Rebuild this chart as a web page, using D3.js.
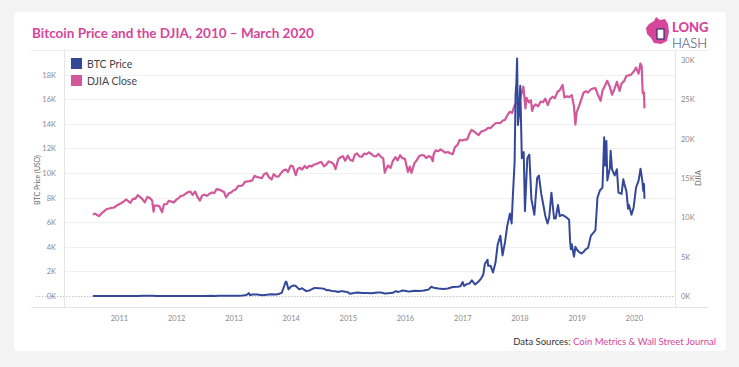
<!DOCTYPE html>
<html>
<head>
<meta charset="utf-8">
<script src="https://cdn.jsdelivr.net/npm/d3@7"></script>
<style>
  body { margin: 0; background: #f3f3f3; font-family: Lato, "Open Sans", sans-serif; }
  svg { display: block; }
</style>
</head>
<body>
<svg id="chart" width="739" height="367"></svg>
<script>

// BTC price (USD), semi-monthly-ish readings
const btcDates = [
  "2010-07-18","2010-10-01","2010-11-07","2010-12-01",
  "2011-01-01","2011-02-10","2011-04-01","2011-05-01","2011-06-08","2011-07-01","2011-08-01","2011-09-01","2011-10-01","2011-11-18","2011-12-01",
  "2012-01-01","2012-02-01","2012-03-01","2012-04-01","2012-05-01","2012-06-01","2012-07-01","2012-08-15","2012-09-01","2012-10-01","2012-11-01","2012-12-01",
  "2013-01-01","2013-02-01","2013-03-01","2013-03-25","2013-04-10","2013-04-16","2013-05-01","2013-06-01","2013-07-05","2013-08-01","2013-09-01","2013-10-01","2013-10-20","2013-11-05","2013-11-18","2013-11-30","2013-12-05","2013-12-18","2013-12-31",
  "2014-01-15","2014-02-01","2014-02-25","2014-03-15","2014-04-10","2014-05-01","2014-06-03","2014-07-01","2014-08-01","2014-08-18","2014-09-01","2014-09-22","2014-10-15","2014-11-01","2014-11-15","2014-12-01","2014-12-15",
  "2015-01-01","2015-01-14","2015-02-01","2015-02-15","2015-03-10","2015-04-01","2015-05-01","2015-06-01","2015-07-10","2015-08-01","2015-08-25","2015-09-15","2015-10-15","2015-11-04","2015-11-15","2015-12-01","2015-12-15",
  "2016-01-01","2016-01-15","2016-02-01","2016-03-01","2016-04-01","2016-05-01","2016-06-01","2016-06-17","2016-07-01","2016-08-01","2016-09-01","2016-10-01","2016-11-01","2016-12-01","2016-12-20",
  "2017-01-04","2017-01-12","2017-02-01","2017-02-15","2017-03-03","2017-03-24","2017-04-15","2017-05-01","2017-05-15","2017-05-25","2017-06-11","2017-06-15","2017-07-01","2017-07-16","2017-08-01","2017-08-15","2017-09-01","2017-09-15","2017-10-01","2017-10-15","2017-11-01","2017-11-12","2017-11-20","2017-12-01","2017-12-07","2017-12-12","2017-12-17","2017-12-22","2017-12-28",
  "2018-01-06","2018-01-16","2018-01-28","2018-02-05","2018-02-20","2018-03-05","2018-03-18","2018-04-06","2018-04-24","2018-05-05","2018-05-20","2018-06-01","2018-06-15","2018-06-29","2018-07-10","2018-07-24","2018-08-10","2018-08-20","2018-09-04","2018-09-15","2018-10-01","2018-10-15","2018-11-01","2018-11-14","2018-11-20","2018-11-25","2018-12-01","2018-12-15","2018-12-24",
  "2019-01-01","2019-01-15","2019-02-01","2019-02-15","2019-03-01","2019-03-15","2019-04-02","2019-04-15","2019-05-01","2019-05-14","2019-05-30","2019-06-15","2019-06-26","2019-07-01","2019-07-10","2019-07-16","2019-08-01","2019-08-06","2019-08-15","2019-09-01","2019-09-15","2019-09-25","2019-10-15","2019-10-26","2019-11-01","2019-11-15","2019-11-25","2019-12-01","2019-12-17","2019-12-31",
  "2020-01-15","2020-02-01","2020-02-13","2020-02-25","2020-03-01","2020-03-06","2020-03-09"
];
const btcValues = [
  0.09, 0.06, 0.35, 0.21,
  0.3, 1.0, 0.78, 3.3, 29.6, 16, 13, 8.2, 5.1, 2.0, 3.0,
  5.3, 6.0, 4.9, 4.9, 5.0, 5.3, 6.7, 13.5, 10, 12.4, 10.9, 12.5,
  13.5, 20, 34, 78, 230, 68, 116, 129, 68, 105, 140, 125, 180, 250, 710, 1150, 1150, 540, 730,
  850, 830, 540, 630, 400, 450, 660, 640, 590, 470, 480, 400, 390, 325, 390, 380, 350,
  315, 180, 225, 255, 290, 245, 235, 225, 285, 280, 210, 230, 255, 400, 330, 375, 450,
  430, 385, 370, 435, 415, 450, 535, 750, 675, 610, 575, 615, 730, 750, 800,
  1130, 810, 985, 1010, 1270, 930, 1180, 1420, 1740, 2600, 2950, 2450, 2450, 1920, 2720, 4200, 4900, 3300, 4400, 5700, 6700, 5900, 8200, 10900, 16400, 17300, 19300, 13900, 14600,
  17100, 11200, 11700, 6900, 11200, 11500, 7900, 6600, 9600, 9800, 8300, 7500, 6500, 5900, 6400, 8400, 6300, 6300, 7400, 6500, 6600, 6500, 6350, 6200, 4500, 3800, 4200, 3200, 4000,
  3800, 3600, 3450, 3600, 3820, 3920, 4900, 5100, 5350, 8000, 8600, 8800, 12900, 10600, 12600, 9400, 10400, 11800, 10300, 9800, 10300, 8400, 8300, 9500, 9150, 8500, 7100, 7400, 6600, 7200,
  8800, 9400, 10350, 9300, 8550, 9100, 7900
];

// DJIA close
const djiaDates = [
  "2010-07-18","2010-08-01","2010-08-15","2010-08-27","2010-09-01","2010-09-15","2010-10-01","2010-10-15","2010-11-01","2010-11-15","2010-12-01","2010-12-15",
  "2011-01-01","2011-01-15","2011-02-01","2011-02-15","2011-03-01","2011-03-15","2011-04-01","2011-04-15","2011-05-01","2011-05-15","2011-06-01","2011-06-15","2011-07-01","2011-07-15","2011-08-01","2011-08-10","2011-08-15","2011-09-01","2011-09-15","2011-10-03","2011-10-15","2011-11-01","2011-11-15","2011-12-01","2011-12-15",
  "2012-01-01","2012-01-15","2012-02-01","2012-02-15","2012-03-01","2012-03-15","2012-04-01","2012-04-15","2012-05-01","2012-05-15","2012-06-01","2012-06-15","2012-07-01","2012-07-15","2012-08-01","2012-08-15","2012-09-01","2012-09-15","2012-10-01","2012-10-15","2012-11-01","2012-11-15","2012-12-01","2012-12-15",
  "2013-01-01","2013-01-15","2013-02-01","2013-02-15","2013-03-01","2013-03-15","2013-04-01","2013-04-15","2013-05-01","2013-05-15","2013-06-01","2013-06-15","2013-07-01","2013-07-15","2013-08-01","2013-08-15","2013-09-01","2013-09-15","2013-10-01","2013-10-15","2013-11-01","2013-11-15","2013-12-01","2013-12-15",
  "2014-01-01","2014-01-15","2014-02-03","2014-02-15","2014-03-01","2014-03-15","2014-04-01","2014-04-15","2014-05-01","2014-05-15","2014-06-01","2014-06-15","2014-07-01","2014-07-15","2014-08-01","2014-08-15","2014-09-01","2014-09-15","2014-10-01","2014-10-15","2014-11-01","2014-11-15","2014-12-01","2014-12-15",
  "2015-01-01","2015-01-15","2015-02-01","2015-02-15","2015-03-01","2015-03-15","2015-04-01","2015-04-15","2015-05-01","2015-05-15","2015-06-01","2015-06-15","2015-07-01","2015-07-15","2015-08-01","2015-08-15","2015-08-25","2015-09-01","2015-09-15","2015-10-01","2015-10-15","2015-11-01","2015-11-15","2015-12-01","2015-12-15",
  "2016-01-01","2016-01-20","2016-02-01","2016-02-11","2016-03-01","2016-03-15","2016-04-01","2016-04-15","2016-05-01","2016-05-15","2016-06-01","2016-06-15","2016-06-27","2016-07-01","2016-07-15","2016-08-01","2016-08-15","2016-09-01","2016-09-15","2016-10-01","2016-10-15","2016-11-01","2016-11-15","2016-12-01","2016-12-15",
  "2017-01-01","2017-01-15","2017-02-01","2017-02-15","2017-03-01","2017-03-15","2017-04-01","2017-04-15","2017-05-01","2017-05-15","2017-06-01","2017-06-15","2017-07-01","2017-07-15","2017-08-01","2017-08-15","2017-09-01","2017-09-15","2017-10-01","2017-10-15","2017-11-01","2017-11-15","2017-12-01","2017-12-15",
  "2018-01-01","2018-01-15","2018-01-26","2018-02-08","2018-02-15","2018-03-01","2018-03-15","2018-03-23","2018-04-01","2018-04-15","2018-05-01","2018-05-15","2018-06-01","2018-06-15","2018-07-01","2018-07-15","2018-08-01","2018-08-15","2018-09-01","2018-09-15","2018-10-03","2018-10-15","2018-11-01","2018-11-15","2018-12-01","2018-12-15","2018-12-24",
  "2019-01-01","2019-01-15","2019-02-01","2019-02-15","2019-03-01","2019-03-15","2019-04-01","2019-04-15","2019-05-01","2019-05-15","2019-06-03","2019-06-15","2019-07-01","2019-07-15","2019-08-01","2019-08-15","2019-09-01","2019-09-15","2019-10-02","2019-10-15","2019-11-01","2019-11-15","2019-12-01","2019-12-15",
  "2020-01-01","2020-01-15","2020-01-31","2020-02-12","2020-02-20","2020-02-27","2020-03-03","2020-03-06","2020-03-09"
];
const djiaValues = [
  10360, 10465, 10300, 10150, 10270, 10570, 10830, 11060, 11120, 11200, 11250, 11460,
  11670, 11790, 12040, 12270, 12060, 11850, 12380, 12340, 12810, 12600, 12290, 11900, 12580, 12480, 12130, 10720, 11480, 11490, 11430, 10660, 11640, 11660, 12100, 12020, 11870,
  12220, 12420, 12720, 12780, 12980, 13190, 13260, 12850, 13280, 12630, 12120, 12770, 12880, 12730, 12980, 13160, 13090, 13590, 13520, 13420, 13230, 12540, 13020, 13140,
  13410, 13530, 14010, 13980, 14090, 14510, 14570, 14600, 14700, 15270, 15120, 15070, 14970, 15480, 15630, 15110, 14810, 15490, 15190, 15170, 15620, 15960, 16090, 15760,
  16580, 16480, 15370, 16150, 16320, 16070, 16530, 16260, 16560, 16450, 16720, 16780, 16950, 17060, 16490, 16660, 17100, 17030, 16800, 16140, 17390, 17630, 17780, 17180,
  17830, 17320, 17160, 17970, 18130, 17750, 17700, 18110, 18020, 18270, 18040, 17790, 17760, 18050, 17690, 17480, 15670, 16060, 16600, 16270, 17140, 17660, 17250, 17890, 17520,
  17430, 15770, 16450, 15660, 16860, 17250, 17790, 17900, 17890, 17530, 17790, 17640, 17140, 17950, 18520, 18400, 18640, 18420, 18210, 18310, 18140, 18040, 18920, 19190, 19850,
  19760, 19890, 19890, 20610, 21120, 20950, 20660, 20450, 20910, 20980, 21140, 21360, 21350, 21640, 21960, 21990, 21990, 22270, 22410, 22960, 23440, 23270, 24230, 24650,
  24720, 25800, 26620, 23860, 25200, 24610, 24870, 23530, 24100, 24360, 24100, 24710, 24640, 25090, 24270, 25020, 25330, 25160, 25960, 26150, 26830, 25250, 25380, 25290, 25540, 24100, 21790,
  23330, 24070, 25060, 25880, 26030, 25850, 26260, 26380, 26430, 25650, 24820, 26090, 26720, 27360, 26580, 25580, 26400, 27220, 26080, 27020, 27350, 28000, 28050, 28140,
  28540, 29030, 28260, 29550, 29220, 25770, 25920, 25860, 23850
];

const btcTicks = [0, 2000, 4000, 6000, 8000, 10000, 12000, 14000, 16000, 18000];
const djiaTicks = [0, 5000, 10000, 15000, 20000, 25000, 30000];
const yearTicks = [2011, 2012, 2013, 2014, 2015, 2016, 2017, 2018, 2019, 2020];

const btcColor = "#34489a";
const djiaColor = "#d1589b";
const pink = "#d6469a";

const parse = d3.timeParse("%Y-%m-%d");
const btc = btcDates.map((d, i) => ({ date: parse(d), value: btcValues[i] }));
const djia = djiaDates.map((d, i) => ({ date: parse(d), value: djiaValues[i] }));

const svg = d3.select("#chart");

// card
svg.append("rect")
  .attr("x", 14).attr("y", 12)
  .attr("width", 712).attr("height", 339)
  .attr("rx", 4)
  .attr("fill", "#fff");

svg.append("text")
  .attr("x", 32).attr("y", 38)
  .attr("fill", pink)
  .style("font-size", "13.5px")
  .style("font-weight", "700")
  .text("Bitcoin Price and the DJIA, 2010 \u2013 March 2020");

// logo
const logo = svg.append("g").attr("transform", "translate(646,17)");
logo.append("path")
  .attr("d", "M3,7 L8,4 L10,0 L14,3 L19,2 L22,7 L23,15 L21,24 L15,27 L8,26 L5,21 L1,17 L0,11 Z")
  .attr("fill", pink);
logo.append("rect").attr("x", 11).attr("y", 12).attr("width", 7).attr("height", 10)
  .attr("fill", "#fff").attr("stroke", "#2d3470").attr("stroke-width", 1.2);
logo.append("text")
  .attr("x", 26).attr("y", 15)
  .attr("fill", pink)
  .style("font-size", "13px").style("font-weight", "900")
  .text("LONG");
logo.append("text")
  .attr("x", 26).attr("y", 30.5)
  .attr("fill", "#2d3470")
  .style("font-size", "13px").style("font-weight", "300")
  .text("HASH");

// header / footer rules
svg.append("line").attr("x1", 31).attr("x2", 708).attr("y1", 50.5).attr("y2", 50.5)
  .attr("stroke", "#ececec");
svg.append("line").attr("x1", 31).attr("x2", 708).attr("y1", 307.5).attr("y2", 307.5)
  .attr("stroke", "#e6e6e6");

const plotLeft = 64, plotRight = 675, plotTop = 51, plotBottom = 307;

const x = d3.scaleTime()
  .domain([new Date(2010, 0, 15), new Date(2020, 8, 20)])
  .range([plotLeft, plotRight]);

const yBtc = d3.scaleLinear().domain([0, 20000]).range([296, 50]);
const yDjia = d3.scaleLinear().domain([0, 30000]).range([296, 60]);

// grid
svg.append("g")
  .selectAll("line")
  .data(btcTicks.filter(d => d > 0))
  .join("line")
  .attr("x1", plotLeft).attr("x2", plotRight)
  .attr("y1", d => Math.round(yBtc(d)) + 0.5)
  .attr("y2", d => Math.round(yBtc(d)) + 0.5)
  .attr("stroke", "#f0f0f0");

svg.append("line")
  .attr("x1", plotLeft - 28).attr("x2", plotRight)
  .attr("y1", Math.round(yBtc(0)) + 0.5).attr("y2", Math.round(yBtc(0)) + 0.5)
  .attr("stroke", "#c8c8c8").attr("stroke-dasharray", "1.5,1.5");

// axis frame lines
svg.append("line").attr("x1", plotLeft + 0.5).attr("x2", plotLeft + 0.5).attr("y1", plotTop).attr("y2", plotBottom)
  .attr("stroke", "#e6e6e6");
svg.append("line").attr("x1", plotRight + 0.5).attr("x2", plotRight + 0.5).attr("y1", plotTop).attr("y2", plotBottom)
  .attr("stroke", "#e6e6e6");

const fmtK = d => (d / 1000) + "K";

const leftAxis = svg.append("g")
  .attr("transform", `translate(${plotLeft},0)`)
  .call(d3.axisLeft(yBtc).tickValues(btcTicks).tickFormat(fmtK).tickSize(0).tickPadding(8));
const rightAxis = svg.append("g")
  .attr("transform", `translate(${plotRight},0)`)
  .call(d3.axisRight(yDjia).tickValues(djiaTicks).tickFormat(fmtK).tickSize(0).tickPadding(6));
const xAxis = svg.append("g")
  .attr("transform", `translate(0,${plotBottom})`)
  .call(d3.axisBottom(x)
    .tickValues(yearTicks.map(y => new Date(y, 0, 1)))
    .tickFormat(d3.timeFormat("%Y"))
    .tickSize(0).tickPadding(9));

[leftAxis, rightAxis, xAxis].forEach(a => {
  a.select(".domain").remove();
  a.selectAll("text")
    .attr("fill", "#8a8a8a")
    .style("font-size", "7.5px")
    .style("font-family", "Lato, sans-serif");
});

svg.append("text")
  .attr("transform", "translate(40,180) rotate(-90)")
  .attr("text-anchor", "middle")
  .attr("fill", "#666")
  .style("font-size", "7px")
  .text("BTC Price (USD)");

svg.append("text")
  .attr("transform", "translate(701,178) rotate(-90)")
  .attr("text-anchor", "middle")
  .attr("fill", "#666")
  .style("font-size", "7.5px")
  .text("DJIA");

// lines
const djiaLine = d3.line().x(d => x(d.date)).y(d => yDjia(d.value));
const btcLine = d3.line().x(d => x(d.date)).y(d => yBtc(d.value));

svg.append("path")
  .datum(djia)
  .attr("d", djiaLine)
  .attr("fill", "none")
  .attr("stroke", djiaColor)
  .attr("stroke-width", 2.2)
  .attr("stroke-linejoin", "round");

svg.append("path")
  .datum(btc)
  .attr("d", btcLine)
  .attr("fill", "none")
  .attr("stroke", btcColor)
  .attr("stroke-width", 2)
  .attr("stroke-linejoin", "round");

// legend
const legend = svg.append("g").attr("transform", "translate(71,58)");
[["BTC Price", btcColor], ["DJIA Close", djiaColor]].forEach((d, i) => {
  legend.append("rect")
    .attr("x", 0).attr("y", i * 17)
    .attr("width", 11).attr("height", 11)
    .attr("fill", d[1]);
  legend.append("text")
    .attr("x", 16).attr("y", i * 17 + 9.5)
    .attr("fill", "#444")
    .style("font-size", "10.5px")
    .text(d[0]);
});

// source
const src = svg.append("text")
  .attr("x", 716).attr("y", 345)
  .attr("text-anchor", "end")
  .style("font-size", "9.5px");
src.append("tspan").attr("fill", "#333").text("Data Sources: ");
src.append("tspan").attr("fill", pink).text("Coin Metrics & Wall Street Journal");

</script>
</body>
</html>
